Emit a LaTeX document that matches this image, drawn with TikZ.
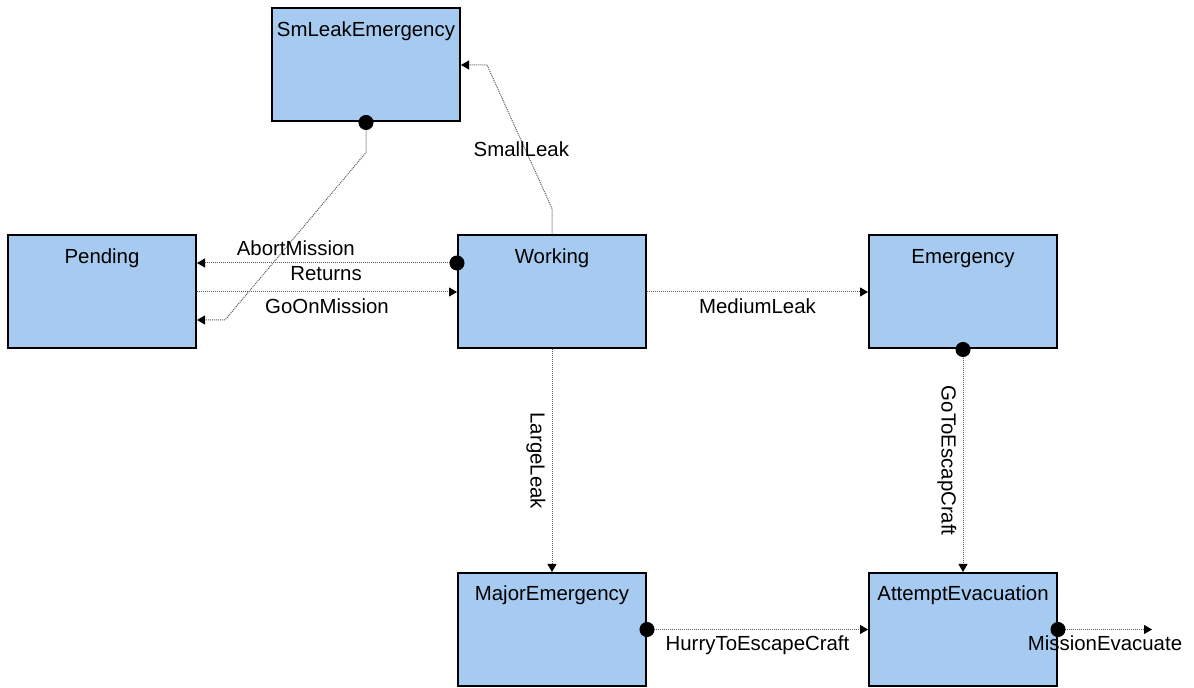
\documentclass[tikz,border=0pt]{standalone}
\usepackage{fontspec}
\setmainfont{Liberation Sans}
\usepackage{xcolor}
\usetikzlibrary{arrows.meta}

\definecolor{stateblue}{RGB}{166,202,240}

\begin{document}
\begin{tikzpicture}[
    x=0.5pt, y=-0.5pt,
    state/.style={draw, line width=1pt, fill=stateblue, minimum width=94pt, minimum height=56.5pt,
        inner sep=0pt, text height=14pt, text depth=42.5pt, font=\fontsize{10.2}{12}\selectfont},
    trans/.style={draw=black!65, line width=0.5pt, dash pattern=on 0.5pt off 0.5pt,
        -{Triangle[length=4pt, width=4.5pt, color=black]}},
    fromdot/.style={{Circle[length=7.5pt, color=black]}-{Triangle[length=4pt, width=4.5pt, color=black]},
        shorten <=-3.75pt},
    lbl/.style={font=\fontsize{10.2}{12}\selectfont, inner sep=3pt},
]
    \useasboundingbox (0,0) rectangle (1194,688);

    % States
    \node[state] (SmLeak) at (366, 65) {SmLeakEmergency};
    \node[state] (Pending) at (102, 292) {Pending};
    \node[state] (Working) at (552, 292) {Working};
    \node[state] (Emergency) at (963, 292) {Emergency};
    \node[state] (MajorEm) at (552, 629.5) {MajorEmergency};
    \node[state] (Attempt) at (963, 629.5) {AttemptEvacuation};
    \coordinate (evacEnd) at (1152, 629.5);

    % Transitions
    \draw[trans] (Working.north) -- ++(0,-26)
        -- node[lbl, pos=0.41, xshift=-2pt] {SmallLeak} ([xshift=13pt]SmLeak.east) -- (SmLeak.east);
    \draw[trans, fromdot] (SmLeak.south) -- ++(0,30)
        -- ([xshift=14pt, yshift=-14pt]Pending.east) -- ([yshift=-14pt]Pending.east)
        node[lbl] at (326, 274) {Returns};
    \draw[trans, fromdot] ([yshift=14.5pt]Working.west)
        -- node[lbl, pos=0.62, above, yshift=0.5pt] {AbortMission} ([yshift=14.5pt]Pending.east);
    \draw[trans] (Pending.east) -- node[lbl, midway, below] {GoOnMission} (Working.west);
    \draw[trans] (Working.east) -- node[lbl, midway, below] {MediumLeak} (Emergency.west);
    \draw[trans] (Working.south) -- node[lbl, midway, rotate=-90, anchor=north] {LargeLeak} (MajorEm.north);
    \draw[trans, fromdot] (Emergency.south)
        -- node[lbl, midway, rotate=-90, anchor=north] {GoToEscapCraft} (Attempt.north);
    \draw[trans, fromdot] (MajorEm.east) -- node[lbl, midway, below] {HurryToEscapeCraft} (Attempt.west);
    \draw[trans, fromdot] (Attempt.east) -- node[lbl, midway, below] {MissionEvacuate} (evacEnd);
\end{tikzpicture}
\end{document}
